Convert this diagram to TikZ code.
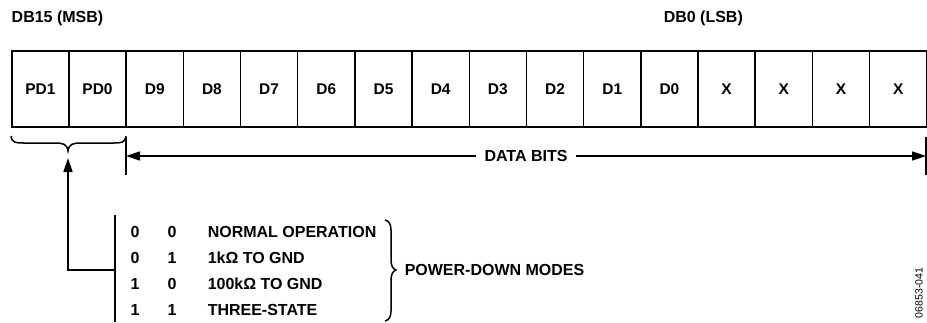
\documentclass[tikz,border=0pt]{standalone}
\usepackage{fontspec}
\setmainfont{Liberation Sans}
\usetikzlibrary{arrows.meta}
\begin{document}
\begin{tikzpicture}[x=1pt,y=-1pt,
  line width=1.5pt,
  txt/.style={font=\fontsize{16}{19}\selectfont\bfseries, inner sep=0pt},
  cell/.style={draw, line width=1.5pt, minimum width=57.19pt, minimum height=76pt, inner sep=0pt, anchor=north west, font=\fontsize{15.5}{19}\selectfont\bfseries},
  tip/.style={-{Triangle[length=14pt,width=9pt]}},
  thin/.style={line width=1.5pt}]
\useasboundingbox (0,0) rectangle (927,322);
% labels
\node[txt, anchor=west] (msb) at (11,18) {DB15 (MSB)};
\node[txt, anchor=west] (lsb) at (663,18) {DB0 (LSB)};
% cells
\foreach \lab [count=\i from 0] in {PD1,PD0,D9,D8,D7,D6,D5,D4,D3,D2,D1,D0,X,X,X,X}{
  \node[cell] (c\i) at ({11+\i*57.19},50) {\lab};
}
% brace under PD1/PD0
\draw[thin] (11,136) .. controls (12,143) and (16,143) .. (24,143) -- (55,143)
  .. controls (63,143) and (67,144) .. (68,151) coordinate (btip)
  .. controls (69,144) and (73,143) .. (81,143) -- (113,143)
  .. controls (121,143) and (125,143) .. (126,136);
% data bits markers
\coordinate (dlt) at (126,137); \coordinate (dlb) at (126,175);
\coordinate (drt) at (926,137); \coordinate (drb) at (926,175);
\draw[thin] (dlt) -- (dlb);
\draw[thin] (drt) -- (drb);
\coordinate (dl) at (126,156); \coordinate (dr) at (926,156);
\node[txt, fill=white, inner xsep=8pt, inner ysep=2pt] (db) at (526,156) {DATA BITS};
\draw[tip] (db) -- (dl);
\draw[tip] (db) -- (dr);
% mode table
\coordinate (vt) at (115,215); \coordinate (vb) at (115,322);
\draw[thin] (vt) -- (vb);
\coordinate (vm) at (115,270);
\coordinate (atip) at (68,158);
\draw[tip] (vm) -| (atip);
\foreach \a/\b/\t [count=\r from 0] in {0/0/NORMAL OPERATION,0/1/1kΩ TO GND,1/0/100kΩ TO GND,1/1/THREE-STATE}{
  \node[txt] (ra\r) at (135,{232+\r*26}) {\a};
  \node[txt] (rb\r) at (172,{232+\r*26}) {\b};
  \node[txt, anchor=west] (rt\r) at (207,{232+\r*26}) {\t};
}
% right brace
\draw[thin] (385,220) .. controls (389,221) and (391,224) .. (391,230) -- (391,260)
  .. controls (391,266) and (393,269) .. (396,270) coordinate (rtip)
  .. controls (393,271) and (391,274) .. (391,280) -- (391,311)
  .. controls (391,317) and (389,320) .. (385,321);
\node[txt, anchor=west] (pdm) at (404,270) {POWER-DOWN MODES};
\node[inner sep=0pt, rotate=90, font=\fontsize{10.5}{12}\selectfont] (code) at (919,293) {06853-041};
\end{tikzpicture}
\end{document}
